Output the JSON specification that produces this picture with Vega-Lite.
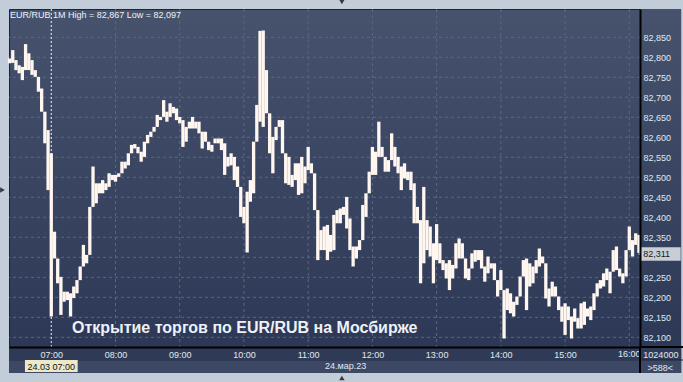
{
"$schema":"https://vega.github.io/schema/vega-lite/v6.json",
"width":631,"height":338,
"autosize":{"type":"none"},
"padding":{"left":9,"top":9,"right":43,"bottom":35},
"background":"#c3cdd9",
"config":{
"view":{"fill":{"gradient":"linear","x1":0,"y1":0,"x2":0,"y2":1,"stops":[{"offset":0,"color":"#47536d"},{"offset":1,"color":"#2c3855"}]},"stroke":"#1c2433","strokeWidth":1},
"axis":{"labelFont":"Liberation Sans","labelFontSize":9,"labelColor":"#e2e8f0","ticks":false,"grid":false,"domainColor":"#000000","domainWidth":2,"title":null,"labelOverlap":false,"labelFlush":false},
"text":{"font":"Liberation Sans"}
},
"layer":[
{"data":{"values":[{}]},"mark":{"type":"rect","fill":{"gradient":"linear","x1":0,"y1":0,"x2":0,"y2":1,"stops":[{"offset":0,"color":"#47536d"},{"offset":1,"color":"#2c3855"}]}},
"encoding":{"x":{"datum":{"year":1900,"month":1,"date":1,"hours":16,"minutes":10},"type":"temporal"},"x2":{"datum":{"year":1900,"month":1,"date":1,"hours":16,"minutes":48,"seconds":30}},"y":{"datum":82920.75,"type":"quantitative","axis":{"orient":"right"}},"y2":{"datum":82075.75}}},
{"data":{"values":[{}]},"mark":{"type":"rect","fill":"#2f3b56"},
"encoding":{"x":{"datum":{"year":1900,"month":1,"date":1,"hours":6,"minutes":20,"seconds":30},"type":"temporal"},"x2":{"datum":{"year":1900,"month":1,"date":1,"hours":16,"minutes":48,"seconds":30}},"y":{"datum":82075.75,"type":"quantitative","axis":{"orient":"right"}},"y2":{"datum":82040.75}}},
{"data":{"values":[{}]},"mark":{"type":"rect","fill":"#3d4964"},
"encoding":{"x":{"datum":{"year":1900,"month":1,"date":1,"hours":6,"minutes":20,"seconds":30},"type":"temporal"},"x2":{"datum":{"year":1900,"month":1,"date":1,"hours":16,"minutes":48,"seconds":30}},"y":{"datum":82040.75,"type":"quantitative","axis":{"orient":"right"}},"y2":{"datum":82010.75}}},
{"data":{"values":[{"v":82100},{"v":82150},{"v":82200},{"v":82250},{"v":82300},{"v":82350},{"v":82400},{"v":82450},{"v":82500},{"v":82550},{"v":82600},{"v":82650},{"v":82700},{"v":82750},{"v":82800},{"v":82850}]},
"mark":{"type":"rule","stroke":"#5b6782","strokeWidth":1,"strokeDash":[3,3]},
"encoding":{"y":{"field":"v","type":"quantitative","axis":{"orient":"right"}}}},
{"data":{"values":[{"g":"08:00"},{"g":"09:00"},{"g":"10:00"},{"g":"11:00"},{"g":"12:00"},{"g":"13:00"},{"g":"14:00"},{"g":"15:00"},{"g":"16:00"}],"format":{"parse":{"g":"date:'%H:%M'"}}},
"mark":{"type":"rule","stroke":"#5b6782","strokeWidth":1,"strokeDash":[3,3]},
"encoding":{"x":{"field":"g","type":"temporal"}}},
{"data":{"values":[{}]},"mark":{"type":"rule","stroke":"#f2f2f2","strokeWidth":1,"strokeDash":[2,2]},
"encoding":{"x":{"datum":{"year":1900,"month":1,"date":1,"hours":7,"minutes":0},"type":"temporal"}}},
{"data":{"values":[
{"t":"06:21","h":82797,"l":82785},{"t":"06:24","h":82818,"l":82786},{"t":"06:27","h":82793,"l":82768},{"t":"06:30","h":82780,"l":82760},
{"t":"06:33","h":82776,"l":82743},{"t":"06:36","h":82833,"l":82768},{"t":"06:39","h":82810,"l":82768},{"t":"06:42","h":82793,"l":82756},
{"t":"06:45","h":82768,"l":82751},{"t":"06:48","h":82751,"l":82714},{"t":"06:51","h":82722,"l":82664},{"t":"06:54","h":82664,"l":82585},
{"t":"06:57","h":82618,"l":82468},{"t":"07:00","h":82560,"l":82152},{"t":"07:03","h":82364,"l":82297},{"t":"07:06","h":82297,"l":82235},
{"t":"07:09","h":82251,"l":82156},{"t":"07:12","h":82214,"l":82189},{"t":"07:15","h":82214,"l":82193},{"t":"07:18","h":82210,"l":82152},
{"t":"07:21","h":82227,"l":82198},{"t":"07:24","h":82243,"l":82210},{"t":"07:27","h":82277,"l":82243},{"t":"07:30","h":82331,"l":82277},
{"t":"07:33","h":82306,"l":82285},{"t":"07:36","h":82426,"l":82306},{"t":"07:39","h":82527,"l":82426},{"t":"07:42","h":82485,"l":82435},
{"t":"07:45","h":82485,"l":82460},{"t":"07:48","h":82493,"l":82460},{"t":"07:51","h":82485,"l":82468},{"t":"07:54","h":82510,"l":82476},
{"t":"07:57","h":82506,"l":82493},{"t":"08:00","h":82506,"l":82489},{"t":"08:03","h":82510,"l":82501},{"t":"08:06","h":82539,"l":82510},
{"t":"08:09","h":82539,"l":82522},{"t":"08:12","h":82560,"l":82530},{"t":"08:15","h":82581,"l":82560},{"t":"08:18","h":82583,"l":82572},
{"t":"08:21","h":82576,"l":82560},{"t":"08:24","h":82564,"l":82539},{"t":"08:27","h":82589,"l":82551},{"t":"08:30","h":82606,"l":82585},
{"t":"08:33","h":82614,"l":82601},{"t":"08:36","h":82626,"l":82614},{"t":"08:39","h":82656,"l":82626},{"t":"08:42","h":82651,"l":82643},
{"t":"08:45","h":82693,"l":82651},{"t":"08:48","h":82664,"l":82639},{"t":"08:51","h":82685,"l":82651},{"t":"08:54","h":82676,"l":82660},
{"t":"08:57","h":82672,"l":82643},{"t":"09:00","h":82651,"l":82635},{"t":"09:03","h":82643,"l":82576},{"t":"09:06","h":82626,"l":82589},
{"t":"09:09","h":82639,"l":82622},{"t":"09:12","h":82651,"l":82622},{"t":"09:15","h":82639,"l":82622},{"t":"09:18","h":82639,"l":82610},
{"t":"09:21","h":82614,"l":82572},{"t":"09:24","h":82614,"l":82589},{"t":"09:27","h":82589,"l":82568},{"t":"09:30","h":82581,"l":82564},
{"t":"09:33","h":82597,"l":82585},{"t":"09:36","h":82597,"l":82585},{"t":"09:39","h":82597,"l":82568},{"t":"09:42","h":82585,"l":82506},
{"t":"09:45","h":82551,"l":82527},{"t":"09:48","h":82560,"l":82530},{"t":"09:51","h":82551,"l":82493},{"t":"09:54","h":82527,"l":82476},
{"t":"09:57","h":82476,"l":82401},{"t":"10:00","h":82426,"l":82385},{"t":"10:03","h":82464,"l":82312},{"t":"10:06","h":82493,"l":82439},
{"t":"10:09","h":82589,"l":82460},{"t":"10:12","h":82681,"l":82589},{"t":"10:15","h":82866,"l":82639},{"t":"10:18","h":82867,"l":82626},
{"t":"10:21","h":82768,"l":82660},{"t":"10:24","h":82660,"l":82560},{"t":"10:27","h":82601,"l":82510},{"t":"10:30","h":82626,"l":82593},
{"t":"10:33","h":82643,"l":82626},{"t":"10:36","h":82643,"l":82560},{"t":"10:39","h":82560,"l":82485},{"t":"10:42","h":82551,"l":82481},
{"t":"10:45","h":82506,"l":82476},{"t":"10:48","h":82535,"l":82493},{"t":"10:51","h":82535,"l":82456},{"t":"10:54","h":82551,"l":82460},
{"t":"10:57","h":82527,"l":82485},{"t":"11:00","h":82576,"l":82518},{"t":"11:03","h":82535,"l":82510},{"t":"11:06","h":82510,"l":82418},
{"t":"11:09","h":82418,"l":82293},{"t":"11:12","h":82368,"l":82318},{"t":"11:15","h":82377,"l":82318},{"t":"11:18","h":82381,"l":82293},
{"t":"11:21","h":82356,"l":82314},{"t":"11:24","h":82406,"l":82318},{"t":"11:27","h":82418,"l":82385},{"t":"11:30","h":82422,"l":82385},
{"t":"11:33","h":82426,"l":82406},{"t":"11:36","h":82451,"l":82372},{"t":"11:39","h":82397,"l":82318},{"t":"11:42","h":82327,"l":82277},
{"t":"11:45","h":82327,"l":82297},{"t":"11:48","h":82343,"l":82318},{"t":"11:51","h":82431,"l":82343},{"t":"11:54","h":82460,"l":82401},
{"t":"11:57","h":82514,"l":82460},{"t":"12:00","h":82576,"l":82506},{"t":"12:03","h":82564,"l":82506},{"t":"12:06","h":82639,"l":82551},
{"t":"12:09","h":82576,"l":82551},{"t":"12:12","h":82551,"l":82514},{"t":"12:15","h":82543,"l":82514},{"t":"12:18","h":82610,"l":82543},
{"t":"12:21","h":82576,"l":82527},{"t":"12:24","h":82551,"l":82510},{"t":"12:27","h":82527,"l":82468},{"t":"12:30","h":82535,"l":82497},
{"t":"12:33","h":82514,"l":82493},{"t":"12:36","h":82514,"l":82468},{"t":"12:39","h":82485,"l":82385},{"t":"12:42","h":82426,"l":82385},
{"t":"12:45","h":82393,"l":82235},{"t":"12:48","h":82476,"l":82285},{"t":"12:51","h":82393,"l":82318},{"t":"12:54","h":82377,"l":82302},
{"t":"12:57","h":82335,"l":82235},{"t":"13:00","h":82383,"l":82293},{"t":"13:03","h":82335,"l":82285},{"t":"13:06","h":82293,"l":82268},
{"t":"13:09","h":82285,"l":82247},{"t":"13:12","h":82293,"l":82218},{"t":"13:15","h":82281,"l":82247},{"t":"13:18","h":82335,"l":82272},
{"t":"13:21","h":82347,"l":82297},{"t":"13:24","h":82335,"l":82297},{"t":"13:27","h":82297,"l":82247},{"t":"13:30","h":82272,"l":82243},
{"t":"13:33","h":82310,"l":82272},{"t":"13:36","h":82318,"l":82289},{"t":"13:39","h":82318,"l":82293},{"t":"13:42","h":82318,"l":82272},
{"t":"13:45","h":82277,"l":82239},{"t":"13:48","h":82302,"l":82260},{"t":"13:51","h":82285,"l":82272},{"t":"13:54","h":82285,"l":82243},
{"t":"13:57","h":82243,"l":82202},{"t":"14:00","h":82268,"l":82218},{"t":"14:03","h":82218,"l":82097},{"t":"14:06","h":82222,"l":82168},
{"t":"14:09","h":82210,"l":82160},{"t":"14:12","h":82189,"l":82152},{"t":"14:15","h":82202,"l":82181},{"t":"14:18","h":82252,"l":82202},
{"t":"14:21","h":82293,"l":82252},{"t":"14:24","h":82297,"l":82168},{"t":"14:27","h":82285,"l":82227},{"t":"14:30","h":82277,"l":82235},
{"t":"14:33","h":82293,"l":82260},{"t":"14:36","h":82322,"l":82277},{"t":"14:39","h":82302,"l":82285},{"t":"14:42","h":82285,"l":82197},
{"t":"14:45","h":82222,"l":82177},{"t":"14:48","h":82239,"l":82202},{"t":"14:51","h":82227,"l":82202},{"t":"14:54","h":82202,"l":82168},
{"t":"14:57","h":82177,"l":82139},{"t":"15:00","h":82185,"l":82106},{"t":"15:03","h":82177,"l":82143},{"t":"15:06","h":82152,"l":82097},
{"t":"15:09","h":82172,"l":82139},{"t":"15:12","h":82148,"l":82122},{"t":"15:15","h":82185,"l":82122},{"t":"15:18","h":82189,"l":82131},
{"t":"15:21","h":82172,"l":82152},{"t":"15:24","h":82177,"l":82143},{"t":"15:27","h":82210,"l":82168},{"t":"15:30","h":82235,"l":82202},
{"t":"15:33","h":82243,"l":82222},{"t":"15:36","h":82260,"l":82227},{"t":"15:39","h":82272,"l":82243},{"t":"15:42","h":82264,"l":82210},
{"t":"15:45","h":82318,"l":82264},{"t":"15:48","h":82327,"l":82268},{"t":"15:51","h":82272,"l":82252},{"t":"15:54","h":82260,"l":82235},
{"t":"15:57","h":82318,"l":82252},{"t":"16:00","h":82377,"l":82318},{"t":"16:03","h":82343,"l":82302},{"t":"16:06","h":82360,"l":82331},
{"t":"16:09","h":82356,"l":82311}
],"format":{"parse":{"t":"date:'%H:%M'"}}},
"mark":{"type":"rule","strokeWidth":3.3,"strokeCap":"butt","color":"#fff6f0"},
"encoding":{
"x":{"field":"t","type":"temporal","scale":{"domain":[{"year":1900,"month":1,"date":1,"hours":6,"minutes":20,"seconds":30},{"year":1900,"month":1,"date":1,"hours":16,"minutes":10}]},
"axis":{"orient":"bottom","format":"%H:%M","labelPadding":3,"zindex":1,"tickCount":30,"labelOverlap":false,"labelFlush":false,"values":[{"year":1900,"month":1,"date":1,"hours":7},{"year":1900,"month":1,"date":1,"hours":8},{"year":1900,"month":1,"date":1,"hours":9},{"year":1900,"month":1,"date":1,"hours":10},{"year":1900,"month":1,"date":1,"hours":11},{"year":1900,"month":1,"date":1,"hours":12},{"year":1900,"month":1,"date":1,"hours":13},{"year":1900,"month":1,"date":1,"hours":14},{"year":1900,"month":1,"date":1,"hours":15}]}},
"y":{"field":"h","type":"quantitative","scale":{"domain":[82075.75,82920.75],"nice":false,"zero":false},
"axis":{"orient":"right","format":",d","labelPadding":3,"zindex":1,"tickCount":30,"labelOverlap":false,"labelFlush":false,"labelExpr":"datum.value == 82300 ? '' : datum.label","values":[82100,82150,82200,82250,82300,82350,82400,82450,82500,82550,82600,82650,82700,82750,82800,82850]}},
"y2":{"field":"l"}}},
{"data":{"values":[{}]},"mark":{"type":"text","text":"16:00","fontSize":9,"fill":"#e2e8f0","align":"center","baseline":"top"},
"encoding":{"x":{"datum":{"year":1900,"month":1,"date":1,"hours":16},"type":"temporal"},"y":{"datum":82068.25,"type":"quantitative","axis":{"orient":"right"}}}},
{"data":{"values":[{}]},"mark":{"type":"rect","fill":"#2f3b56"},
"encoding":{"x":{"datum":{"year":1900,"month":1,"date":1,"hours":16,"minutes":10},"type":"temporal"},"x2":{"datum":{"year":1900,"month":1,"date":1,"hours":16,"minutes":48,"seconds":30}},"y":{"datum":82075.75,"type":"quantitative","axis":{"orient":"right"}},"y2":{"datum":82043.25}}},
{"data":{"values":[{}]},"mark":{"type":"rect","fill":"#3d4964"},
"encoding":{"x":{"datum":{"year":1900,"month":1,"date":1,"hours":16,"minutes":10},"type":"temporal"},"x2":{"datum":{"year":1900,"month":1,"date":1,"hours":16,"minutes":48,"seconds":30}},"y":{"datum":82043.25,"type":"quantitative","axis":{"orient":"right"}},"y2":{"datum":82010.75}}},
{"data":{"values":[{}]},"mark":{"type":"rule","stroke":"#000000","strokeWidth":2},
"encoding":{"x":{"datum":{"year":1900,"month":1,"date":1,"hours":16,"minutes":10},"type":"temporal"},"x2":{"datum":{"year":1900,"month":1,"date":1,"hours":16,"minutes":51}},"y":{"datum":82075.75,"type":"quantitative","axis":{"orient":"right"}}}},
{"data":{"values":[{}]},"mark":{"type":"rule","stroke":"#1d2535","strokeWidth":1},
"encoding":{"x":{"datum":{"year":1900,"month":1,"date":1,"hours":16,"minutes":10},"type":"temporal"},"x2":{"datum":{"year":1900,"month":1,"date":1,"hours":16,"minutes":51}},"y":{"datum":82043.25,"type":"quantitative","axis":{"orient":"right"}}}},
{"data":{"values":[{}]},"mark":{"type":"rule","stroke":"#000000","strokeWidth":2},
"encoding":{"x":{"datum":{"year":1900,"month":1,"date":1,"hours":16,"minutes":10},"type":"temporal"},"y":{"datum":82075.75,"type":"quantitative","axis":{"orient":"right"}},"y2":{"datum":82010.75}}},
{"data":{"values":[{}]},"mark":{"type":"text","text":"EUR/RUB 1M High = 82,867 Low = 82,097","fontSize":9,"fill":"#eef2f7","align":"left","baseline":"alphabetic"},
"encoding":{"x":{"datum":{"year":1900,"month":1,"date":1,"hours":6,"minutes":21,"seconds":20},"type":"temporal"},"y":{"datum":82899.5,"type":"quantitative","axis":{"orient":"right"}}}},
{"data":{"values":[{}]},"mark":{"type":"text","text":"Открытие торгов по EUR/RUB на Мосбирже","fontSize":16,"fontWeight":"bold","fill":"#eef1f6","align":"left","baseline":"alphabetic"},
"encoding":{"x":{"datum":{"year":1900,"month":1,"date":1,"hours":7,"minutes":19,"seconds":20},"type":"temporal"},"y":{"datum":82110,"type":"quantitative","axis":{"orient":"right"}}}},
{"data":{"values":[{}]},"mark":{"type":"rect","fill":"#ece8c8"},
"encoding":{"x":{"datum":{"year":1900,"month":1,"date":1,"hours":6,"minutes":35,"seconds":24},"type":"temporal"},"x2":{"datum":{"year":1900,"month":1,"date":1,"hours":7,"minutes":24,"seconds":40}},"y":{"datum":82043.25,"type":"quantitative","axis":{"orient":"right"}},"y2":{"datum":82013.25}}},
{"data":{"values":[{}]},"mark":{"type":"text","text":"24.03 07:00","fontSize":9,"fill":"#111111","align":"center","baseline":"alphabetic"},
"encoding":{"x":{"datum":{"year":1900,"month":1,"date":1,"hours":7},"type":"temporal"},"y":{"datum":82019.5,"type":"quantitative","axis":{"orient":"right"}}}},
{"data":{"values":[{}]},"mark":{"type":"text","text":"24.мар.23","fontSize":9,"fill":"#e2e8f0","align":"center","baseline":"alphabetic"},
"encoding":{"x":{"datum":{"year":1900,"month":1,"date":1,"hours":11,"minutes":35},"type":"temporal"},"y":{"datum":82022,"type":"quantitative","axis":{"orient":"right"}}}},
{"data":{"values":[{}]},"mark":{"type":"text","text":"1024000","fontSize":9,"fill":"#e2e8f0","align":"center","baseline":"alphabetic"},
"encoding":{"x":{"datum":{"year":1900,"month":1,"date":1,"hours":16,"minutes":29,"seconds":30},"type":"temporal"},"y":{"datum":82049.5,"type":"quantitative","axis":{"orient":"right"}}}},
{"data":{"values":[{}]},"mark":{"type":"text","text":">588<","fontSize":9,"fill":"#e2e8f0","align":"center","baseline":"alphabetic"},
"encoding":{"x":{"datum":{"year":1900,"month":1,"date":1,"hours":16,"minutes":29},"type":"temporal"},"y":{"datum":82017,"type":"quantitative","axis":{"orient":"right"}}}},
{"data":{"values":[{}]},"mark":{"type":"rect","fill":"#c9cdd4"},
"encoding":{"x":{"datum":{"year":1900,"month":1,"date":1,"hours":16,"minutes":11},"type":"temporal"},"x2":{"datum":{"year":1900,"month":1,"date":1,"hours":16,"minutes":48}},"y":{"datum":82325,"type":"quantitative","axis":{"orient":"right"}},"y2":{"datum":82291.5}}},
{"data":{"values":[{}]},"mark":{"type":"point","shape":"triangle-left","filled":true,"fill":"#c9cdd4","size":40,"opacity":1},
"encoding":{"x":{"datum":{"year":1900,"month":1,"date":1,"hours":16,"minutes":10,"seconds":30},"type":"temporal"},"y":{"datum":82308,"type":"quantitative","axis":{"orient":"right"}}}},
{"data":{"values":[{}]},"mark":{"type":"text","text":"82,311","fontSize":9,"fill":"#141a26","align":"left","baseline":"middle"},
"encoding":{"x":{"datum":{"year":1900,"month":1,"date":1,"hours":16,"minutes":13},"type":"temporal"},"y":{"datum":82308,"type":"quantitative","axis":{"orient":"right"}}}},
{"data":{"values":[{}]},"mark":{"type":"point","shape":"triangle-down","filled":true,"fill":"#333a44","size":30,"opacity":1},
"encoding":{"x":{"datum":{"year":1900,"month":1,"date":1,"hours":11,"minutes":31,"seconds":30},"type":"temporal"},"y":{"datum":82938.25,"type":"quantitative","axis":{"orient":"right"}}}},
{"data":{"values":[{}]},"mark":{"type":"point","shape":"triangle-up","filled":true,"fill":"#333a44","size":30,"opacity":1},
"encoding":{"x":{"datum":{"year":1900,"month":1,"date":1,"hours":11,"minutes":31,"seconds":30},"type":"temporal"},"y":{"datum":81998.25,"type":"quantitative","axis":{"orient":"right"}}}},
{"data":{"values":[{}]},"mark":{"type":"point","shape":"triangle-right","filled":true,"fill":"#333a44","size":30,"opacity":1},
"encoding":{"x":{"datum":{"year":1900,"month":1,"date":1,"hours":6,"minutes":14,"seconds":24},"type":"temporal"},"y":{"datum":82468.25,"type":"quantitative","axis":{"orient":"right"}}}}
]
}
